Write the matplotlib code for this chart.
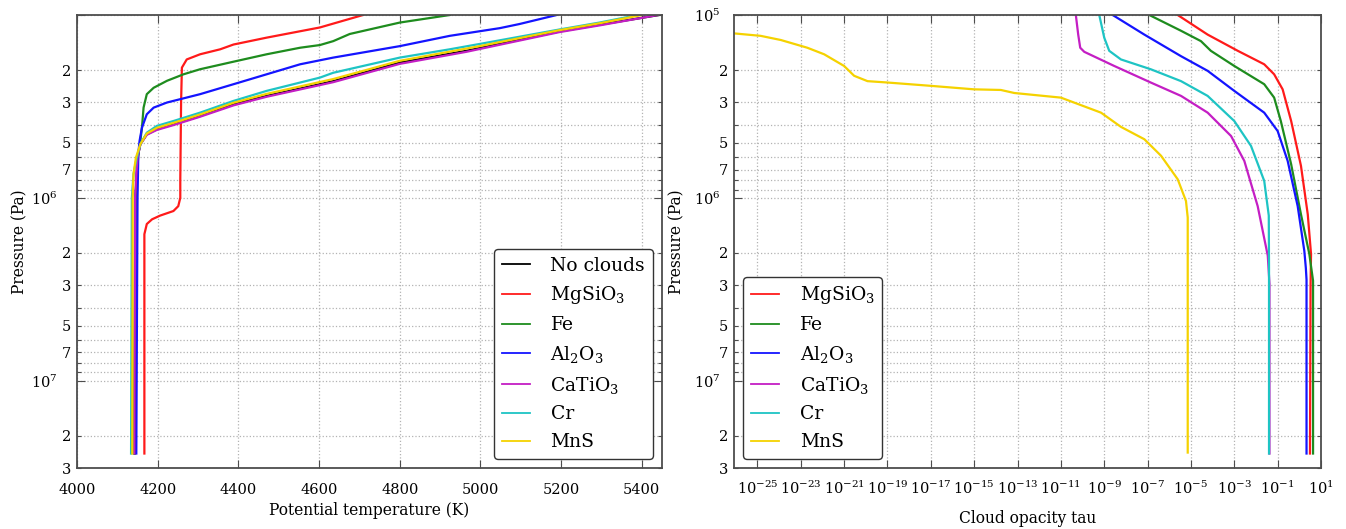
import matplotlib
matplotlib.use("Agg")
import matplotlib.pyplot as plt
import numpy as np
from matplotlib.ticker import (LogLocator, FuncFormatter, FixedLocator,
                               MultipleLocator, NullLocator)

plt.rcParams['font.family'] = ['DejaVu Serif']
plt.rcParams['mathtext.fontset'] = 'dejavuserif'

# ---------------- Left panel: potential temperature (K) vs pressure (Pa)
labels_left = ['No clouds', r'MgSiO$_3$', 'Fe', r'Al$_2$O$_3$', r'CaTiO$_3$', 'Cr', 'MnS']

noclouds_T = [5443, 5295, 5196, 4965, 4800, 4635, 4602, 4470, 4388, 4305, 4239,
              4198, 4173, 4157, 4150, 4148, 4145, 4143]
noclouds_P = [1.0e5, 1.13e5, 1.23e5, 1.57e5, 1.82e5, 2.30e5, 2.39e5, 2.77e5, 3.08e5,
              3.57e5, 3.96e5, 4.21e5, 4.49e5, 5.09e5, 6.03e5, 7.42e5, 1.0e6, 2.5e7]

mgsio3_T = [4709, 4602, 4470, 4388, 4355, 4305, 4272, 4260, 4258, 4256, 4256, 4251,
            4239, 4206, 4186, 4173, 4167, 4167]
mgsio3_P = [1.0e5, 1.17e5, 1.33e5, 1.45e5, 1.54e5, 1.64e5, 1.75e5, 1.94e5, 3.0e5,
            8.0e5, 1.0e6, 1.11e6, 1.18e6, 1.25e6, 1.31e6, 1.39e6, 1.58e6, 2.5e7]

fe_T = [4924, 4800, 4676, 4635, 4602, 4553, 4470, 4388, 4305, 4264, 4223, 4190,
        4173, 4165, 4161, 4157, 4152, 4145, 4141]
fe_P = [1.0e5, 1.10e5, 1.27e5, 1.39e5, 1.46e5, 1.51e5, 1.64e5, 1.80e5, 1.98e5,
        2.11e5, 2.29e5, 2.50e5, 2.71e5, 3.21e5, 4.13e5, 4.89e5, 5.77e5, 1.0e6, 2.5e7]

al2o3_T = [5189, 5097, 5048, 4924, 4800, 4635, 4553, 4470, 4388, 4305, 4223, 4190,
           4173, 4161, 4155, 4152, 4150, 4147]
al2o3_P = [1.0e5, 1.12e5, 1.18e5, 1.30e5, 1.48e5, 1.71e5, 1.86e5, 2.11e5, 2.39e5,
           2.71e5, 3.01e5, 3.21e5, 3.49e5, 4.13e5, 4.89e5, 5.77e5, 1.0e6, 2.5e7]

catio3_T = [5440, 5295, 5196, 4965, 4800, 4635, 4470, 4388, 4305, 4239, 4198, 4173,
            4157, 4150, 4147, 4144, 4142]
catio3_P = [1.0e5, 1.14e5, 1.24e5, 1.59e5, 1.85e5, 2.33e5, 2.80e5, 3.12e5, 3.60e5,
            4.0e5, 4.25e5, 4.52e5, 5.1e5, 6.0e5, 7.4e5, 1.0e6, 2.5e7]

cr_T = [5390, 5295, 5196, 4998, 4924, 4800, 4635, 4602, 4470, 4388, 4305, 4239,
        4198, 4173, 4157, 4148, 4140, 4136, 4134]
cr_P = [1.0e5, 1.10e5, 1.20e5, 1.44e5, 1.54e5, 1.71e5, 2.07e5, 2.20e5, 2.60e5,
        2.95e5, 3.42e5, 3.80e5, 4.04e5, 4.40e5, 5.09e5, 6.03e5, 7.42e5, 1.0e6, 2.5e7]

mns_T = [5400, 5295, 5196, 4998, 4800, 4635, 4470, 4388, 4305, 4239, 4198, 4173,
         4157, 4146, 4140, 4138, 4137]
mns_P = [1.0e5, 1.11e5, 1.21e5, 1.48e5, 1.78e5, 2.24e5, 2.70e5, 3.02e5, 3.50e5,
         3.89e5, 4.14e5, 4.45e5, 5.09e5, 6.03e5, 7.42e5, 1.0e6, 2.5e7]

# ---------------- Right panel: cloud opacity tau vs pressure (Pa)
labels_right = [r'MgSiO$_3$', 'Fe', r'Al$_2$O$_3$', r'CaTiO$_3$', 'Cr', 'MnS']

mgsio3_tau = [2.45e-6, 5.9e-5, 1.45e-3, 0.024, 0.069, 0.17, 0.42, 1.19, 2.45, 3.47, 3.3, 3.1]
mgsio3_tauP = [1.0e5, 1.28e5, 1.57e5, 1.86e5, 2.11e5, 2.55e5, 3.80e5, 6.68e5, 1.23e6,
               2.03e6, 3.0e6, 2.5e7]

fe_tau = [1.2e-7, 3.5e-6, 2.9e-5, 8.3e-5, 1.0e-3, 0.024, 0.069, 0.14, 0.42, 1.19, 2.9, 4.3, 4.3]
fe_tauP = [1.0e5, 1.22e5, 1.39e5, 1.57e5, 1.90e5, 2.39e5, 2.83e5, 3.80e5, 6.55e5,
           1.23e6, 2.03e6, 2.84e6, 2.5e7]

al2o3_tau = [2.45e-9, 7.1e-8, 3.5e-6, 5.9e-5, 1.0e-3, 0.024, 0.1, 0.29, 0.84, 1.7, 2.0, 2.15, 2.15]
al2o3_tauP = [1.0e5, 1.28e5, 1.68e5, 2.02e5, 2.60e5, 3.42e5, 4.31e5, 6.28e5, 1.11e6,
              1.95e6, 2.42e6, 2.8e6, 2.5e7]

catio3_tau = [4.9e-11, 6.3e-11, 7.8e-11, 1.2e-10, 2.9e-9, 1.4e-7, 3.5e-6, 5.9e-5, 7.1e-4,
              2.9e-3, 0.012, 0.035, 0.042, 0.042]
catio3_tauP = [1.0e5, 1.28e5, 1.51e5, 1.59e5, 1.90e5, 2.34e5, 2.77e5, 3.42e5, 4.59e5,
               6.28e5, 1.11e6, 2.07e6, 2.95e6, 2.5e7]

cr_tau = [5.9e-10, 1.0e-9, 1.7e-9, 5.9e-9, 1.4e-7, 3.5e-6, 5.9e-5, 1.0e-3, 5.9e-3, 0.024,
          0.039, 0.040, 0.040]
cr_tauP = [1.0e5, 1.33e5, 1.57e5, 1.75e5, 1.98e5, 2.30e5, 2.77e5, 3.80e5, 5.20e5,
           8.07e5, 1.25e6, 2.42e6, 2.5e7]

mns_tau = [8.0e-27, 1.4e-25, 1.2e-24, 2.0e-23, 1.2e-22, 1.0e-21, 2.9e-21, 1.2e-20,
           1.0e-19, 1.0e-17, 1.0e-15, 1.7e-14, 7.1e-14, 1.0e-11, 7.1e-10, 5.9e-9,
           7.1e-8, 4.2e-7, 2.45e-6, 5.9e-6, 7.1e-6, 7.1e-6]
mns_tauP = [1.26e5, 1.30e5, 1.37e5, 1.51e5, 1.64e5, 1.90e5, 2.15e5, 2.30e5, 2.34e5,
            2.44e5, 2.55e5, 2.57e5, 2.67e5, 2.83e5, 3.42e5, 4.09e5, 4.78e5, 5.89e5,
            7.91e5, 1.04e6, 1.28e6, 2.47e7]

colors_left = ['black', '#ff1a1a', '#1e8c1e', '#1414ff', '#c41ec4', '#1ec4c4', '#f5d200']
colors_right = colors_left[1:]

left_series = [(noclouds_T, noclouds_P), (mgsio3_T, mgsio3_P), (fe_T, fe_P),
               (al2o3_T, al2o3_P), (catio3_T, catio3_P), (cr_T, cr_P), (mns_T, mns_P)]
right_series = [(mgsio3_tau, mgsio3_tauP), (fe_tau, fe_tauP), (al2o3_tau, al2o3_tauP),
                (catio3_tau, catio3_tauP), (cr_tau, cr_tauP), (mns_tau, mns_tauP)]

W, H = 1346, 529
fig = plt.figure(figsize=(W / 100, H / 100), dpi=100)
axL = fig.add_axes([77 / W, 61 / H, 585 / W, 453 / H])
axR = fig.add_axes([734 / W, 61 / H, 587 / W, 453 / H])

TICK_FS = 10.5
LABEL_FS = 11.2
LEG_FS = 13.5


def major_fmt_factory(hide_top):
    def f(v, pos):
        e = int(round(np.log10(v)))
        if hide_top and e == 5:
            return ''
        return r'$10^{%d}$' % e
    return f


def minor_fmt(v, pos):
    e = np.floor(np.log10(v) + 1e-9)
    m = int(round(v / 10 ** e))
    return str(m) if m in (2, 3, 5, 7) else ''


def style_pressure_axis(ax, hide_top, major_pad, xpad, ylabelpad, xlabelpad):
    ax.set_yscale('log')
    ax.set_ylim(3e7, 1e5)
    ax.yaxis.set_major_locator(LogLocator(base=10))
    ax.yaxis.set_minor_locator(LogLocator(base=10, subs=np.arange(2, 10)))
    ax.yaxis.set_major_formatter(FuncFormatter(major_fmt_factory(hide_top)))
    ax.yaxis.set_minor_formatter(FuncFormatter(minor_fmt))
    ax.tick_params(which='both', direction='in', top=True, right=True,
                   labelsize=TICK_FS, color='0.3', width=0.8)
    ax.tick_params(axis='y', which='major', length=6, pad=major_pad)
    ax.tick_params(axis='y', which='minor', length=3, pad=4)
    ax.tick_params(axis='x', which='major', length=6, pad=xpad)
    ax.set_ylabel('Pressure (Pa)', fontsize=LABEL_FS, labelpad=ylabelpad)
    ax.xaxis.labelpad = xlabelpad
    ax.grid(True, which='major', axis='x', ls=':', color='0.7', lw=0.9)
    ax.grid(True, which='both', axis='y', ls=':', color='0.7', lw=0.9)
    for s in ax.spines.values():
        s.set_linewidth(1.3)
        s.set_color('0.3')


def add_legend(ax, loc):
    leg = ax.legend(loc=loc, fontsize=LEG_FS, fancybox=True, framealpha=1,
                    edgecolor='0.2', handlelength=1.5, handletextpad=1.1,
                    labelspacing=0.52, borderaxespad=0.5, borderpad=0.4)
    leg.get_frame().set_linewidth(1.0)
    for ln in leg.get_lines():
        ln.set_linewidth(1.3)
    return leg


# Left panel
for (t, p), c, lab in zip(left_series, colors_left, labels_left):
    axL.plot(t, p, color=c, lw=1.6, label=lab)
axL.set_xlim(4000, 5450)
axL.xaxis.set_major_locator(MultipleLocator(200))
axL.set_xlabel('Potential temperature (K)', fontsize=LABEL_FS)
style_pressure_axis(axL, hide_top=True, major_pad=14, xpad=10.5, ylabelpad=2, xlabelpad=4)
add_legend(axL, 'lower right')

# Right panel
for (tau, p), c, lab in zip(right_series, colors_right, labels_right):
    axR.plot(tau, p, color=c, lw=1.6, label=lab)
axR.set_xscale('log')
axR.set_xlim(10 ** -26.08, 10.0)
axR.xaxis.set_major_locator(FixedLocator(10.0 ** np.arange(-25, 2, 2)))
axR.xaxis.set_minor_locator(NullLocator())
axR.xaxis.set_major_formatter(FuncFormatter(lambda v, pos: r'$10^{%d}$' % int(round(np.log10(v)))))
axR.set_xlabel('Cloud opacity tau', fontsize=LABEL_FS)
style_pressure_axis(axR, hide_top=False, major_pad=10, xpad=8.5, ylabelpad=6, xlabelpad=9)
add_legend(axR, 'lower left')

fig.savefig('out.png', dpi=100)
